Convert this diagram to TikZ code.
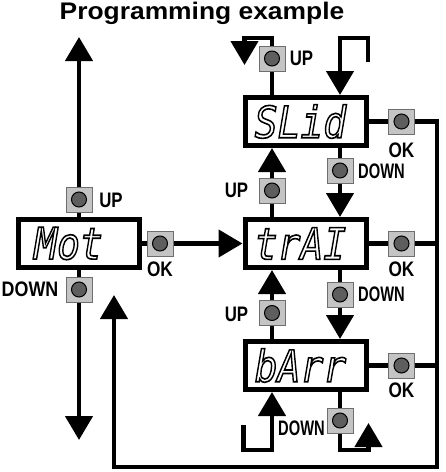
\documentclass[tikz,border=0pt]{standalone}
\usepackage{fontspec}
\setmainfont{Liberation Sans}
\newfontfamily\segfont{DejaVu Sans Mono}
\usetikzlibrary{arrows.meta}
\definecolor{btnfill}{HTML}{C4C4C4}
\definecolor{btnedge}{HTML}{6E6E6E}
\definecolor{ledfill}{HTML}{5E5E5E}
\newcommand{\outlinetext}[1]{\special{pdf:literal direct 1 Tr 1.4 w}#1\special{pdf:literal direct 0 Tr}}
\begin{document}
\begin{tikzpicture}[x=1pt,y=-1pt,
  conn/.style={line width=4.5pt},
  arr/.style={line width=4.5pt,-{Triangle[length=24pt,width=27pt]}},
  display/.style={draw,line width=5pt,minimum width=121pt,minimum height=48pt,inner sep=0pt},
  segtext/.style={anchor=west,inner sep=0pt,font=\segfont\itshape\fontsize{38}{38}\selectfont},
  button/.style={draw=btnedge,fill=btnfill,line width=1pt,minimum width=26pt,minimum height=25pt,inner sep=0pt,
    path picture={\draw[black,fill=ledfill,line width=1pt] (path picture bounding box.center) circle[radius=7.5pt];}},
  lab/.style={inner sep=0pt,font=\bfseries\fontsize{21}{21}\selectfont},
  title/.style={inner sep=0pt,font=\bfseries\fontsize{24}{24}\selectfont}]
\useasboundingbox (0,0) rectangle (446,472);

\node[title] (ttl) at (202,13) {\scalebox{1.1}[1]{Programming example}};

% displays
\node[display] (mot)  at (79,243.5) {};
\node[display] (trai) at (305.5,243.5) {};
\node[display] (slid) at (305.5,121.5) {};
\node[display] (barr) at (305.5,365.5) {};

% buttons
\node[button] (motup) at (79,199.5) {};
\node[button] (motdn) at (79,289.5) {};
\node[button] (motok) at (160,243.5) {};
\node[button] (topup) at (272,58.5) {};
\node[button] (slidok) at (401.5,121.5) {};
\node[button] (dn1) at (340,170.5) {};
\node[button] (up1) at (272,190.5) {};
\node[button] (traiok) at (401.5,243.5) {};
\node[button] (dn2) at (340,294.5) {};
\node[button] (up2) at (272,313) {};
\node[button] (barrok) at (401.5,365.5) {};
\node[button] (dn3) at (340,420.5) {};

% labels
\node[lab] (lmotup) at (111,200) {\scalebox{0.8}[1]{UP}};
\node[lab] (lmotdn) at (30,289) {\scalebox{0.85}[1]{DOWN}};
\node[lab] (lmotok) at (160,269) {\scalebox{0.82}[1]{OK}};
\node[lab] (ltopup) at (301.5,58.5) {\scalebox{0.8}[1]{UP}};
\node[lab] (lslidok) at (401.5,150) {\scalebox{0.82}[1]{OK}};
\node[lab] (ldn1) at (381.5,171) {\scalebox{0.7}[1]{DOWN}};
\node[lab] (lup1) at (236.5,190.5) {\scalebox{0.8}[1]{UP}};
\node[lab] (ltraiok) at (401.5,269) {\scalebox{0.82}[1]{OK}};
\node[lab] (ldn2) at (381.5,294.5) {\scalebox{0.7}[1]{DOWN}};
\node[lab] (lup2) at (236.5,314) {\scalebox{0.8}[1]{UP}};
\node[lab] (lbarrok) at (401.5,390) {\scalebox{0.82}[1]{OK}};
\node[lab] (ldn3) at (301.5,428.5) {\scalebox{0.7}[1]{DOWN}};

% free-end coordinates
\coordinate (mottop) at (79,37);
\coordinate (motbot) at (79,440);
\coordinate (hA) at (272,38);
\coordinate (hB) at (244.5,38);
\coordinate (hC) at (244.5,65);
\coordinate (rA) at (368,62);
\coordinate (rB) at (368,38);
\coordinate (rC) at (340,38);
\coordinate (bus1) at (437,121.5);
\coordinate (bus2) at (437,467);
\coordinate (bus3) at (114,467);
\coordinate (bus4) at (114,295);
\coordinate (jA) at (243.5,425);
\coordinate (jB) at (243.5,450);
\coordinate (jC) at (272,450);
\coordinate (kA) at (340,450);
\coordinate (kB) at (368.5,450);
\coordinate (kC) at (368.5,423);

% Mot connectors
\draw[arr] (motup.north) -- (mottop);
\draw[conn] (mot.north) -- (motup.south);
\draw[conn] (mot.south) -- (motdn.north);
\draw[arr] (motdn.south) -- (motbot);
\draw[conn] (mot.east) -- (motok.west);
\draw[arr] (motok.east) -- (trai.west);

% top of SLid
\draw[conn] (slid.north -| topup) -- (topup.south);
\draw[arr] (topup.north) |- (hB) -- (hC);
\draw[arr] (rA) -- (rB) -- (rC) -- (slid.north -| rC);

% OK bus
\draw[conn] (slid.east) -- (slidok.west);
\draw[arr] (slidok.east) -- (bus1) -- (bus2) -- (bus3) -- (bus4);
\draw[conn] (trai.east) -- (traiok.west);
\draw[conn] (traiok.east) -- (traiok.east -| bus1);
\draw[conn] (barr.east) -- (barrok.west);
\draw[conn] (barrok.east) -- (barrok.east -| bus1);

% SLid <-> trAI
\draw[conn] (slid.south -| dn1) -- (dn1.north);
\draw[arr] (dn1.south) -- (trai.north -| dn1);
\draw[conn] (trai.north -| up1) -- (up1.south);
\draw[arr] (up1.north) -- (slid.south -| up1);

% trAI <-> bArr
\draw[conn] (trai.south -| dn2) -- (dn2.north);
\draw[arr] (dn2.south) -- (barr.north -| dn2);
\draw[conn] (barr.north -| up2) -- (up2.south);
\draw[arr] (up2.north) -- (trai.south -| up2);

% bottom of bArr
\draw[arr] (jA) -- (jB) -- (jC) -- (barr.south -| jC);
\draw[conn] (barr.south -| dn3) -- (dn3.north);
\draw[arr] (dn3.south) -- (kA) -- (kB) -- (kC);

% display texts
\node[segtext] (tmot) at ([xshift=18pt]mot.west) {\scalebox{1}[1.15]{\outlinetext{Mot}}};
\node[segtext] (ttrai) at ([xshift=12pt]trai.west) {\scalebox{1}[1.15]{\outlinetext{trAI}}};
\node[segtext] (tslid) at ([xshift=12pt]slid.west) {\scalebox{1}[1.15]{\outlinetext{SLid}}};
\node[segtext] (tbarr) at ([xshift=12pt]barr.west) {\scalebox{1}[1.15]{\outlinetext{bArr}}};
\end{tikzpicture}
\end{document}
